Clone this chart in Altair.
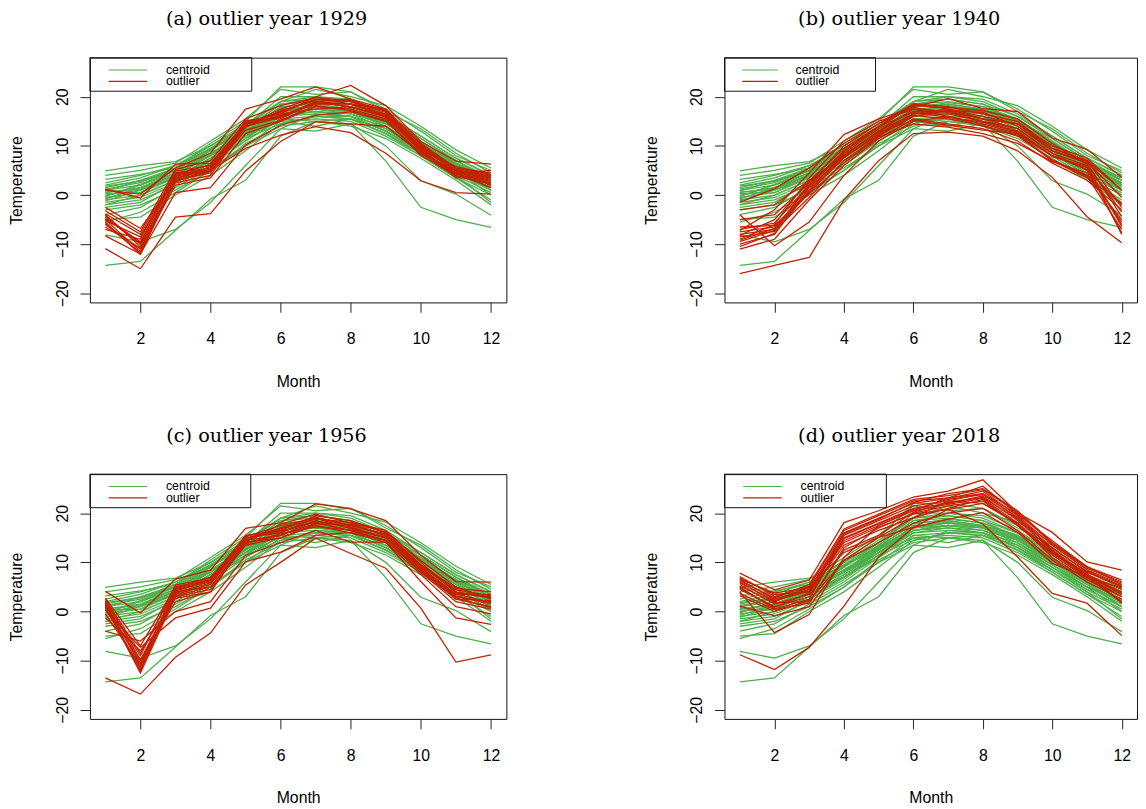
import altair as alt
import pandas as pd

MONTHS = [1, 2, 3, 4, 5, 6, 7, 8, 9, 10, 11, 12]
X_TICKS = [2, 4, 6, 8, 10, 12]
Y_TICKS = [-20, -10, 0, 10, 20]
PANEL_TITLES = ["(a) outlier year 1929", "(b) outlier year 1940",
                "(c) outlier year 1956", "(d) outlier year 2018"]
LEGEND_LABELS = ["centroid", "outlier"]

# centroid years (green), monthly mean temperature
CENTROID = [
    [-14.3, -13.5, -7.2, -0.8, 3.0, 12.0, 15.0, 15.5, 12.5, 8.5, 4.5, 1.0],
    [-8.1, -9.5, -7.0, -1.5, 6.0, 13.5, 16.5, 16.0, 13.0, 9.0, 5.0, 0.0],
    [-2.0, 0.0, 3.0, 7.0, 11.0, 15.5, 15.0, 14.5, 6.9, -2.5, -5.0, -6.6],
    [-4.0, -2.5, 1.5, 5.5, 10.0, 13.5, 13.0, 14.5, 10.0, 2.9, 0.2, -4.1],
    [1.5, 3.0, 5.5, 10.5, 15.0, 22.0, 22.0, 21.0, 17.0, 13.5, 8.5, 4.5],
    [4.9, 6.0, 6.8, 10.0, 14.0, 19.0, 21.5, 20.0, 18.2, 14.0, 9.2, 5.5],
    [4.0, 5.0, 6.5, 11.0, 15.5, 21.5, 20.5, 21.0, 17.5, 13.0, 8.0, 5.0],
    [3.2, 4.2, 5.5, 9.5, 14.0, 20.0, 20.0, 19.5, 16.5, 12.0, 7.5, 4.0],
    [2.0, 3.5, 6.0, 10.0, 14.5, 19.0, 19.5, 18.5, 16.0, 11.5, 7.0, 3.5],
    [1.0, 2.0, 5.0, 9.0, 13.5, 18.5, 19.0, 18.0, 15.5, 11.0, 6.5, 3.0],
    [0.5, 1.5, 4.5, 8.5, 13.0, 18.0, 18.5, 17.5, 15.0, 10.5, 6.0, 2.5],
    [0.0, 1.0, 4.0, 8.0, 12.5, 17.5, 18.0, 17.0, 14.5, 10.0, 5.5, 2.0],
    [-0.5, 0.5, 3.5, 7.5, 12.0, 17.0, 17.5, 17.0, 14.0, 9.5, 5.0, 1.5],
    [-1.0, 0.0, 3.0, 7.0, 12.0, 16.5, 17.0, 16.5, 13.5, 9.0, 4.5, 1.0],
    [-1.5, -0.5, 2.5, 6.5, 11.5, 16.0, 16.5, 16.0, 13.0, 8.5, 4.0, 0.5],
    [-2.0, -1.0, 2.0, 6.0, 11.0, 15.5, 16.0, 15.5, 12.5, 8.0, 3.5, 0.0],
    [-3.0, -2.0, 1.0, 5.0, 10.0, 15.0, 15.5, 15.0, 12.0, 8.0, 3.5, -1.0],
    [-5.0, -4.5, 0.0, 4.0, 9.0, 14.5, 16.0, 15.5, 12.5, 8.5, 4.0, -1.5],
    [-5.5, -3.5, 0.5, 5.0, 10.5, 14.0, 15.0, 14.0, 11.5, 7.5, 3.0, -2.0],
    [1.2, 2.5, 5.5, 9.5, 13.0, 17.0, 18.0, 17.5, 15.5, 10.5, 6.5, 3.5],
    [0.8, 3.0, 5.0, 8.0, 12.0, 16.0, 17.0, 16.0, 14.0, 10.0, 6.0, 2.5],
    [-0.8, 1.5, 4.0, 8.0, 13.5, 18.5, 19.5, 18.5, 15.0, 11.5, 7.0, 3.0],
    [-0.2, 2.0, 4.5, 9.0, 14.0, 19.0, 20.0, 19.0, 16.0, 12.0, 7.5, 4.0],
    [2.5, 4.0, 6.0, 9.5, 12.5, 16.5, 17.5, 16.5, 14.5, 10.5, 6.0, 3.0],
    [-1.2, 1.0, 3.5, 7.5, 12.5, 17.0, 18.5, 17.5, 14.5, 10.5, 6.5, 2.0],
    [-2.5, -1.5, 2.5, 7.0, 11.5, 16.5, 17.5, 17.0, 14.0, 9.5, 5.5, 1.0],
    [1.8, 2.8, 4.8, 8.5, 12.0, 15.0, 14.0, 15.5, 13.5, 9.5, 5.0, 2.0],
    [0.3, 0.5, 3.8, 7.0, 11.5, 14.5, 16.0, 16.0, 13.0, 9.0, 5.0, 2.5],
    [-0.3, 2.2, 5.2, 9.2, 13.2, 17.8, 18.8, 18.0, 15.2, 10.8, 6.2, 2.2],
    [0.6, 1.2, 4.2, 8.2, 12.8, 17.2, 18.2, 17.2, 14.8, 10.2, 5.8, 1.8],
]

OUTLIER_1929 = [
    [-10.9, -15.0, -4.5, -3.8, 4.9, 10.9, 14.9, 14.5, 14.0, 8.5, 4.5, 1.5],
    [1.2, -0.6, 6.3, 6.5, 14.5, 16.0, 19.0, 18.5, 16.0, 9.5, 5.0, 3.5],
    [1.0, 0.2, 5.5, 8.5, 17.5, 19.5, 22.0, 19.5, 17.5, 10.5, 5.5, 4.0],
    [-4.0, -10.5, 4.0, 5.5, 15.0, 16.5, 20.0, 22.3, 18.2, 10.9, 6.9, 6.3],
    [-5.0, -11.5, 3.5, 5.0, 14.5, 17.0, 19.5, 19.0, 17.0, 9.5, 5.0, 2.0],
    [-4.5, -10.0, 2.5, 4.0, 14.0, 16.0, 18.5, 18.5, 16.5, 9.0, 4.5, 3.0],
    [-5.5, -12.1, 3.0, 4.5, 15.2, 15.5, 19.0, 19.5, 16.0, 10.0, 5.5, 4.5],
    [-3.8, -8.0, 4.5, 5.5, 14.2, 17.5, 19.9, 18.5, 17.5, 9.0, 4.0, 2.5],
    [-6.0, -11.0, 2.0, 3.5, 12.5, 15.0, 18.0, 17.5, 15.5, 8.0, 4.5, 1.5],
    [-7.0, -9.0, 4.9, 6.0, 14.8, 16.5, 17.5, 18.0, 16.0, 9.5, 3.5, 4.0],
    [-8.3, -12.0, 0.5, 1.5, 10.2, 14.2, 16.2, 16.9, 15.0, 8.5, 5.0, 3.5],
    [-2.5, -6.8, 3.0, 5.0, 9.5, 12.2, 13.9, 12.7, 8.5, 2.9, 0.5, 0.2],
    [-5.2, -8.5, 3.8, 5.2, 14.0, 15.8, 18.8, 18.0, 15.8, 8.8, 4.2, 2.8],
    [-4.8, -9.5, 4.2, 6.2, 14.6, 16.8, 19.4, 19.0, 16.8, 9.8, 5.2, 3.8],
    [-6.5, -10.8, 2.8, 4.8, 13.2, 15.2, 18.2, 17.2, 15.2, 8.2, 3.8, 2.2],
    [-3.2, -7.5, 5.2, 7.0, 15.5, 18.2, 19.8, 19.2, 17.2, 10.2, 4.8, 3.2],
    [-5.8, -11.8, 3.2, 5.8, 14.4, 16.2, 18.6, 18.6, 16.4, 9.2, 5.8, 4.2],
    [-4.2, -9.8, 4.4, 4.8, 13.8, 17.2, 19.2, 17.8, 16.2, 10.6, 4.4, 5.0],
]

OUTLIER_1940 = [
    [-16.0, -14.3, -12.7, -1.0, 7.0, 12.5, 12.8, 12.0, 9.0, 3.6, -4.4, -9.7],
    [-1.5, 1.3, 5.5, 10.5, 14.5, 18.0, 19.6, 17.6, 17.0, 11.6, 9.3, 3.6],
    [-3.0, -2.0, 3.0, 8.0, 13.0, 16.5, 17.5, 15.5, 14.5, 9.5, 7.0, 1.0],
    [-4.0, -10.3, -5.5, 4.0, 11.0, 15.0, 16.0, 14.5, 12.5, 7.0, 3.5, -1.7],
    [-7.0, -5.7, 2.0, 9.0, 14.0, 18.5, 17.5, 16.0, 14.5, 9.0, 6.5, -4.4],
    [-7.5, -6.5, 1.0, 8.5, 13.5, 17.0, 17.0, 15.5, 13.5, 8.5, 6.0, -6.4],
    [-8.0, -7.0, 0.5, 7.6, 12.5, 16.5, 16.5, 15.0, 13.0, 8.0, 5.5, -7.7],
    [-8.5, -7.4, 2.5, 10.0, 14.5, 18.6, 18.0, 16.5, 15.0, 9.5, 7.0, -2.5],
    [-9.0, -6.0, 3.5, 11.0, 15.0, 17.5, 16.0, 14.0, 12.0, 7.0, 4.0, -5.0],
    [-9.5, -7.2, -0.5, 7.0, 12.0, 16.0, 17.2, 16.8, 14.0, 9.0, 6.8, -0.5],
    [-10.0, -8.0, 1.5, 8.0, 13.0, 17.5, 17.0, 15.5, 14.5, 10.0, 7.5, 1.0],
    [-11.0, -9.0, -1.0, 6.0, 11.5, 15.5, 14.5, 13.5, 11.0, 6.5, 3.0, -3.0],
    [-7.2, -3.0, 4.5, 12.3, 15.5, 17.8, 16.8, 15.0, 13.5, 8.5, 5.0, -6.0],
    [-8.2, -5.0, 2.8, 9.5, 14.0, 16.8, 15.8, 14.8, 12.8, 7.8, 5.8, -8.0],
    [-9.2, -6.8, 1.8, 8.8, 13.8, 18.2, 17.8, 17.2, 15.5, 10.5, 6.2, -3.5],
    [-5.0, -4.0, 2.5, 8.2, 12.8, 15.2, 14.2, 13.2, 12.5, 8.0, 5.2, -2.0],
    [-6.5, -6.2, 0.2, 6.5, 11.8, 14.5, 13.8, 12.5, 10.5, 6.8, 4.5, -5.5],
    [-10.5, -7.8, 0.8, 7.8, 12.2, 16.2, 15.5, 14.2, 12.2, 7.2, 3.8, -7.0],
]

OUTLIER_1956 = [
    [-13.5, -16.8, -9.3, -4.4, 5.4, 10.0, 14.9, 11.8, 8.8, 0.7, -10.3, -8.8],
    [4.1, -0.3, 6.6, 8.4, 16.9, 18.1, 21.9, 20.9, 18.5, 11.4, 6.1, 6.0],
    [2.7, -7.0, 5.0, 6.5, 15.5, 16.5, 19.5, 18.5, 16.0, 9.5, 4.0, 3.0],
    [1.5, -10.5, 4.5, 6.0, 15.0, 16.0, 19.0, 17.5, 15.5, 9.0, 3.0, 2.0],
    [1.0, -12.0, 3.5, 5.5, 14.5, 15.5, 18.5, 17.0, 15.0, 8.5, 2.5, 1.0],
    [0.7, -11.5, 4.0, 5.0, 14.0, 15.5, 18.0, 16.5, 14.5, 8.0, 2.0, 0.5],
    [2.0, -9.0, 5.4, 6.8, 15.2, 17.5, 19.0, 16.8, 15.0, 9.0, 3.5, 3.5],
    [-1.3, -8.0, 2.7, 4.0, 14.1, 15.0, 17.5, 16.0, 14.1, 7.5, 1.0, -0.5],
    [-4.0, -6.0, 0.0, 2.0, 11.4, 14.0, 16.5, 14.1, 14.1, 6.1, -1.3, -2.6],
    [1.2, -12.5, 3.0, 4.5, 13.5, 15.0, 17.8, 17.8, 15.5, 9.5, 4.7, 4.0],
    [0.9, -10.0, 2.0, 4.0, 14.5, 16.8, 18.8, 18.2, 16.5, 10.0, 3.8, 2.8],
    [1.8, -11.0, 4.8, 7.0, 15.0, 16.2, 18.4, 17.2, 15.0, 8.8, 3.2, 1.5],
    [0.3, -7.3, -1.3, 0.7, 10.1, 12.1, 15.5, 16.1, 14.5, 8.2, 2.5, 2.2],
    [2.2, -9.8, 3.8, 5.8, 14.8, 17.0, 19.2, 17.6, 15.8, 9.2, 4.4, 3.2],
    [1.4, -12.2, 4.2, 6.2, 15.4, 16.4, 18.2, 16.4, 14.4, 8.6, 2.8, 0.8],
    [-0.5, -11.0, 3.2, 5.0, 13.8, 15.8, 17.2, 16.6, 15.2, 7.8, 3.6, 1.8],
    [2.5, -8.5, 4.6, 6.4, 14.2, 17.8, 19.8, 18.0, 16.2, 10.4, 5.0, 2.5],
]

OUTLIER_2018 = [
    [-8.8, -11.8, -7.3, 1.1, 11.1, 17.1, 20.8, 17.8, 11.1, 3.7, 1.7, -4.9],
    [7.8, 4.4, 6.4, 18.1, 20.5, 23.3, 24.5, 26.8, 20.1, 16.1, 10.1, 8.4],
    [7.1, 3.1, 5.1, 16.5, 19.5, 22.5, 23.1, 25.5, 19.8, 14.4, 9.1, 6.4],
    [6.5, 2.5, 4.5, 16.0, 19.0, 22.0, 23.0, 24.5, 19.5, 13.5, 8.5, 5.5],
    [5.5, 1.5, 3.5, 15.5, 18.5, 21.5, 22.5, 24.0, 19.0, 13.0, 8.0, 5.0],
    [5.0, 0.5, 2.5, 15.0, 18.0, 21.0, 22.0, 23.5, 18.5, 12.5, 7.5, 4.5],
    [4.5, 1.0, 3.0, 14.4, 17.5, 20.5, 21.8, 23.0, 18.0, 12.0, 7.1, 4.0],
    [3.7, 0.4, 1.7, 13.0, 17.0, 20.0, 21.5, 22.5, 17.5, 11.8, 7.5, 3.7],
    [6.0, 2.0, 5.0, 12.0, 15.1, 19.1, 22.5, 22.0, 18.0, 11.0, 6.5, 3.0],
    [1.1, -0.9, 1.0, 10.4, 15.1, 17.1, 18.8, 20.1, 16.1, 9.8, 7.1, 3.0],
    [4.0, -4.3, -0.6, 11.0, 17.5, 20.5, 23.1, 24.0, 19.8, 12.4, 7.0, 2.0],
    [6.8, 3.5, 4.0, 15.8, 18.8, 22.2, 24.0, 25.0, 20.5, 14.0, 9.0, 6.0],
    [5.8, 2.2, 4.2, 14.8, 17.8, 20.8, 22.8, 23.8, 19.2, 12.8, 8.2, 5.2],
    [4.8, 0.8, 3.8, 13.5, 16.5, 19.1, 21.0, 22.8, 17.5, 11.5, 6.8, 4.8],
    [5.2, 1.8, 2.0, 12.5, 15.5, 20.2, 22.2, 23.2, 18.8, 12.2, 7.8, 1.7],
    [6.2, 2.8, 5.5, 16.8, 19.8, 22.8, 23.6, 24.8, 20.2, 13.8, 8.8, 5.8],
    [3.2, 0.0, 2.2, 10.4, 14.0, 18.0, 20.0, 21.0, 16.5, 10.5, 6.0, 2.5],
    [6.6, 3.8, 4.8, 14.0, 17.2, 19.8, 20.8, 22.0, 17.8, 12.0, 7.4, 3.4],
]

GREEN = "#4DAF4A"
RED = "#C42000"
SANS = "Liberation Sans"
SERIF = "DejaVu Serif"


def long_df(series_list, prefix):
    rows = []
    for i, s in enumerate(series_list):
        for m, v in zip(MONTHS, s):
            rows.append({"series": f"{prefix}{i}", "month": m, "temp": v})
    return pd.DataFrame(rows)


x_axis = alt.Axis(values=X_TICKS, title="Month", grid=False, domain=False,
                  tickSize=10, tickColor="#222222", tickWidth=1,
                  labelFont=SANS, labelFontSize=16, labelColor="black",
                  labelPadding=19, labelOverlap=False, labelFlush=False,
                  titleFont=SANS, titleFontSize=16, titleFontWeight="normal",
                  titleColor="black", titlePadding=27)
y_axis = alt.Axis(values=Y_TICKS, title="Temperature", grid=False, domain=False,
                  tickSize=10, tickColor="#222222", tickWidth=1,
                  labelFont=SANS, labelFontSize=16, labelColor="black",
                  labelAngle=270, labelAlign="center", labelBaseline="alphabetic",
                  labelPadding=13, labelOverlap=False,
                  titleFont=SANS, titleFontSize=16, titleFontWeight="normal",
                  titleColor="black", titlePadding=30)

x_scale = alt.Scale(domain=[0.56, 12.44], nice=False, zero=False)
y_scale = alt.Scale(domain=[-21.85, 27.95], nice=False, zero=False)


def panel(title, outliers, width, leg_w, leg_line, leg_text_x):
    gdf = long_df(CENTROID, "c")
    rdf = long_df(outliers, "o")
    base_enc = dict(
        x=alt.X("month:Q", scale=x_scale, axis=x_axis),
        y=alt.Y("temp:Q", scale=y_scale, axis=y_axis),
        detail="series:N",
    )
    green = alt.Chart(gdf).mark_line(color=GREEN, strokeWidth=1.3, clip=True).encode(**base_enc)
    red = alt.Chart(rdf).mark_line(color=RED, strokeWidth=1.3, clip=True).encode(**base_enc)
    one = pd.DataFrame({"k": [0]})
    box = alt.Chart(one).mark_rect(fill="white", fillOpacity=0, stroke="#111111", strokeWidth=1).encode(
        x=alt.value(0), x2=alt.value(leg_w), y=alt.value(0), y2=alt.value(34))
    l1 = alt.Chart(one).mark_rule(color=GREEN, strokeWidth=1.2).encode(
        x=alt.value(leg_line[0]), x2=alt.value(leg_line[1]), y=alt.value(12.5))
    l2 = alt.Chart(one).mark_rule(color=RED, strokeWidth=1.2).encode(
        x=alt.value(leg_line[0]), x2=alt.value(leg_line[1]), y=alt.value(24))
    t1 = alt.Chart(one).mark_text(text=LEGEND_LABELS[0], align="left", baseline="middle",
                                  font=SANS, fontSize=12.5, color="black").encode(
        x=alt.value(leg_text_x), y=alt.value(12.5))
    t2 = alt.Chart(one).mark_text(text=LEGEND_LABELS[1], align="left", baseline="middle",
                                  font=SANS, fontSize=12.5, color="black").encode(
        x=alt.value(leg_text_x), y=alt.value(24))
    return alt.layer(green, red, box, l1, l2, t1, t2).properties(
        width=width, height=248,
        title=alt.TitleParams(text=title, font=SERIF, fontSize=19.5, fontWeight="normal",
                              color="black", anchor="middle", baseline="bottom",
                              offset=9, dx=-32),
    )


pa = panel(PANEL_TITLES[0], OUTLIER_1929, 422, 164, (19, 58), 77)
pb = panel(PANEL_TITLES[1], OUTLIER_1940, 418, 153, (18, 54), 72)
pc = panel(PANEL_TITLES[2], OUTLIER_1956, 422, 163, (19, 58), 77)
pd_ = panel(PANEL_TITLES[3], OUTLIER_2018, 418, 164, (19, 58), 77)

chart = alt.vconcat(
    alt.hconcat(pa, pb, spacing=137),
    alt.hconcat(pc, pd_, spacing=137),
    spacing=35,
).properties(padding={"top": -5, "left": 0, "right": 0, "bottom": 0}).configure(
    background="white",
    view=alt.ViewConfig(stroke="#111111", strokeWidth=1),
)

chart.save("out.html", embed_options={"renderer": "svg", "actions": False})
